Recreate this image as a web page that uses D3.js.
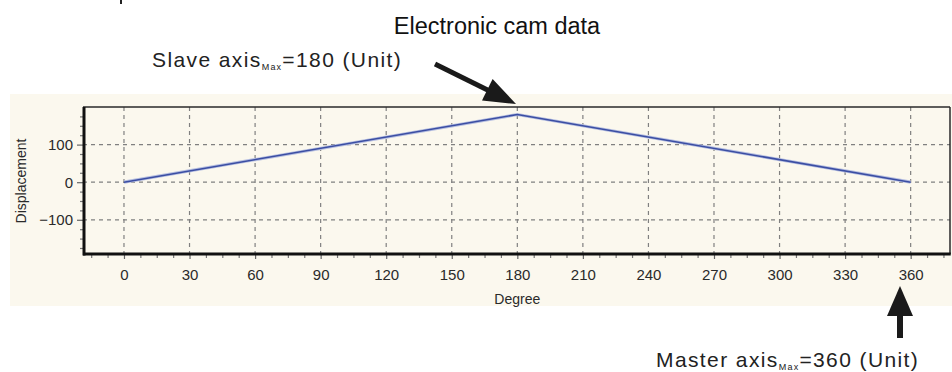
<!DOCTYPE html>
<html>
<head>
<meta charset="utf-8">
<script src="https://cdn.jsdelivr.net/npm/d3@7"></script>
<style>
  html, body { margin: 0; padding: 0; background: #ffffff; }
  svg { display: block; }
</style>
</head>
<body>
<svg id="chart" width="952" height="372"></svg>
<script>
// ---- data ----
const masterDegree = [0, 180, 360];
const slaveDisplacement = [0, 180, 0];
const xTickValues = [0, 30, 60, 90, 120, 150, 180, 210, 240, 270, 300, 330, 360];
const xMinorTicks = [-15, -7.5, 7.5, 15, 22.5, 37.5, 45, 52.5, 67.5, 75, 82.5, 97.5, 105, 112.5,
  127.5, 135, 142.5, 157.5, 165, 172.5, 187.5, 195, 202.5, 217.5, 225, 232.5, 247.5, 255, 262.5,
  277.5, 285, 292.5, 307.5, 315, 322.5, 337.5, 345, 352.5, 367.5, 375];
const yTickValues = [-100, 0, 100];
const yMinorTicks = [-175, -150, -125, -75, -50, -25, 25, 50, 75, 125, 150, 175];
const titleText = "Electronic cam data";
const xAxisLabel = "Degree";
const yAxisLabel = "Displacement";

const svg = d3.select("#chart");
const W = 952, H = 372;
const pLeft = 83, pRight = 950, pTop = 107, pBottom = 254;

const x = d3.scaleLinear().domain([-18.75, 378]).range([pLeft, pRight]);
const y = d3.scaleLinear().domain([-191, 200]).range([pBottom, pTop]);

// panel background
svg.append("rect").attr("x", 10).attr("y", 94).attr("width", W - 10).attr("height", 212)
  .attr("fill", "#fbf8ee");

// small fragment at top-left (cut-off glyph)
svg.append("rect").attr("x", 120).attr("y", 0).attr("width", 2).attr("height", 4).attr("fill", "#222");

// gridlines
const grid = svg.append("g").attr("stroke", "#808080").attr("stroke-width", 1.2)
  .attr("stroke-dasharray", "4,4");
grid.selectAll("line.v").data(xTickValues).join("line").attr("class", "v")
  .attr("x1", d => x(d)).attr("x2", d => x(d)).attr("y1", pTop).attr("y2", pBottom);
grid.selectAll("line.h").data(yTickValues).join("line").attr("class", "h")
  .attr("x1", pLeft).attr("x2", pRight).attr("y1", d => y(d)).attr("y2", d => y(d));

// axes via d3
const fontFam = "'Liberation Sans', Arial, sans-serif";
const tickFont = "'DejaVu Sans Condensed', 'Liberation Sans', Arial, sans-serif";
const xAxis = d3.axisBottom(x).tickValues(xTickValues).tickSize(5).tickSizeOuter(0).tickPadding(10);
const gx = svg.append("g").attr("transform", `translate(0,${pBottom})`).call(xAxis);
gx.select(".domain").remove();
gx.selectAll(".tick line").attr("stroke", "#666").attr("stroke-width", 1.2);
gx.selectAll(".tick text").attr("font-family", fontFam).attr("font-size", 15).attr("fill", "#2a2a2a");

const xAxisMinor = d3.axisBottom(x).tickValues(xMinorTicks).tickSize(4).tickSizeOuter(0).tickFormat("");
const gxm = svg.append("g").attr("transform", `translate(0,${pBottom})`).call(xAxisMinor);
gxm.select(".domain").remove();
gxm.selectAll(".tick line").attr("stroke", "#777").attr("stroke-width", 1.2);

const yAxis = d3.axisLeft(y).tickValues(yTickValues).tickSize(6).tickSizeOuter(0).tickPadding(4);
const gy = svg.append("g").attr("transform", `translate(${pLeft},0)`).call(yAxis);
gy.select(".domain").remove();
gy.selectAll(".tick line").attr("stroke", "#666").attr("stroke-width", 1.2);
gy.selectAll(".tick text").attr("font-family", fontFam).attr("font-size", 15).attr("fill", "#2a2a2a");

const yAxisMinor = d3.axisLeft(y).tickValues(yMinorTicks).tickSize(3).tickSizeOuter(0).tickFormat("");
const gym = svg.append("g").attr("transform", `translate(${pLeft},0)`).call(yAxisMinor);
gym.select(".domain").remove();
gym.selectAll(".tick line").attr("stroke", "#777").attr("stroke-width", 1.2);

// frame
svg.append("line").attr("x1", pLeft).attr("x2", pRight).attr("y1", pTop).attr("y2", pTop)
  .attr("stroke", "#2a2a2a").attr("stroke-width", 1.5);
svg.append("line").attr("x1", pRight).attr("x2", pRight).attr("y1", pTop).attr("y2", pBottom)
  .attr("stroke", "#2a2a2a").attr("stroke-width", 1.5);
svg.append("line").attr("x1", pLeft + 1).attr("x2", pLeft + 1).attr("y1", pTop).attr("y2", pBottom + 1.5)
  .attr("stroke", "#111").attr("stroke-width", 3);
svg.append("line").attr("x1", pLeft).attr("x2", pRight + 0.75).attr("y1", pBottom).attr("y2", pBottom)
  .attr("stroke", "#111").attr("stroke-width", 3);

// data line
const pts = masterDegree.map((d, i) => [d, slaveDisplacement[i]]);
const line = d3.line().x(d => x(d[0])).y(d => y(d[1]));
svg.append("path").datum(pts).attr("d", line).attr("fill", "none")
  .attr("stroke", "#b4bde0").attr("stroke-width", 3.2);
svg.append("path").datum(pts).attr("d", line).attr("fill", "none")
  .attr("stroke", "#3b4ea3").attr("stroke-width", 1.5);

// axis labels
svg.append("text").attr("x", x(180)).attr("y", 304).attr("text-anchor", "middle")
  .attr("font-family", fontFam).attr("font-size", 14).attr("fill", "#2a2a2a").text(xAxisLabel);
svg.append("text").attr("transform", "translate(26,181) rotate(-90)").attr("text-anchor", "middle")
  .attr("font-family", fontFam).attr("font-size", 14).attr("fill", "#2a2a2a").text(yAxisLabel);

// title
svg.append("text").attr("x", 497).attr("y", 34).attr("text-anchor", "middle")
  .attr("font-family", fontFam).attr("font-size", 23.5).attr("fill", "#111").text(titleText);

// annotations
function annot(xp, yp, main, val) {
  const t = svg.append("text").attr("x", xp).attr("y", yp)
    .attr("font-family", fontFam).attr("font-size", 21).attr("fill", "#222")
    .attr("letter-spacing", 1.4);
  t.append("tspan").text(main);
  t.append("tspan").attr("font-size", 9).attr("dy", 3).attr("letter-spacing", 1.2).text("Max");
  t.append("tspan").attr("dy", -3).text(val);
}
annot(152, 67, "Slave axis", "=180 (Unit)");
annot(656, 367, "Master axis", "=360 (Unit)");

// arrows
function arrow(x1, y1, x2, y2, headLen, headW, shaftW) {
  const dx = x2 - x1, dy = y2 - y1, L = Math.hypot(dx, dy);
  const ux = dx / L, uy = dy / L, px = -uy, py = ux;
  const bx = x2 - ux * headLen, by = y2 - uy * headLen;
  svg.append("line").attr("x1", x1).attr("y1", y1).attr("x2", bx + ux * 2).attr("y2", by + uy * 2)
    .attr("stroke", "#1a1a1a").attr("stroke-width", shaftW);
  svg.append("path").attr("d",
    `M${x2},${y2} L${bx + px * headW / 2},${by + py * headW / 2} L${bx - px * headW / 2},${by - py * headW / 2} Z`)
    .attr("fill", "#1a1a1a");
}
arrow(435, 64, 516, 104, 32, 24, 5);
arrow(900, 338, 900, 286, 30, 26, 6);
</script>
</body>
</html>
